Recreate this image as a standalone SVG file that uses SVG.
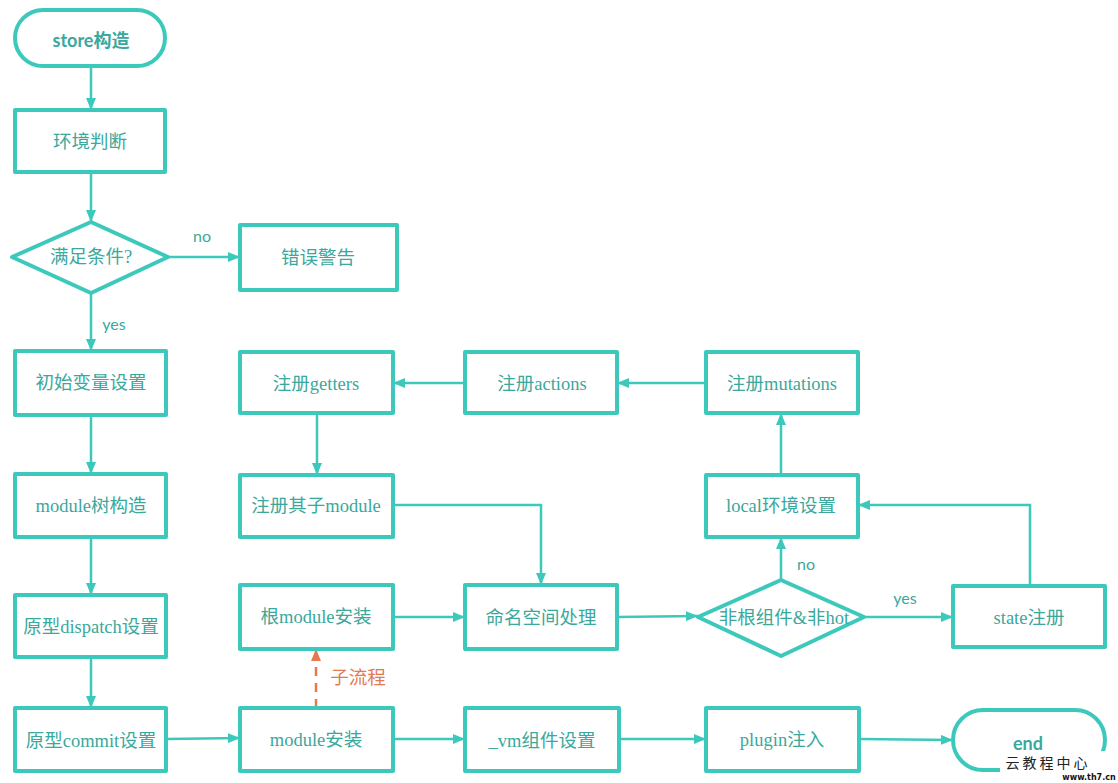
<svg xmlns="http://www.w3.org/2000/svg" width="1118" height="783" viewBox="0 0 1118 783">
<defs>
<marker id="ah" viewBox="0 0 12 10" refX="12" refY="5" markerWidth="12" markerHeight="10" markerUnits="userSpaceOnUse" orient="auto">
<path d="M0,0 L12,5 L0,10 Z" fill="#3cc9bb"/>
</marker>
<marker id="ahO" viewBox="0 0 12 10" refX="12" refY="5" markerWidth="12" markerHeight="10" markerUnits="userSpaceOnUse" orient="auto">
<path d="M0,0 L12,5 L0,10 Z" fill="#e8794f"/>
</marker>
<style>
.box{fill:#fff;stroke:#3cc9bb;stroke-width:4;stroke-linejoin:round}
.t{font-family:"Liberation Serif","Noto Sans CJK SC",serif;font-size:18.5px;fill:#3aa89c;text-anchor:middle;dominant-baseline:central}
.h{font-family:"Lato","Noto Sans CJK SC",sans-serif;font-size:18px;font-weight:bold;fill:#3aa89c;text-anchor:middle;dominant-baseline:central}
.lbl{font-family:"Lato",sans-serif;font-size:16px;fill:#3aa89c;text-anchor:middle;dominant-baseline:central}
.c{fill:none;stroke:#3cc9bb;stroke-width:2.5;marker-end:url(#ah)}
</style>
</defs>
<rect width="1118" height="783" fill="#fff"/>
<g id="connectors">
<path class="c" d="M91,65 V110"/>
<path class="c" d="M91,172 V222"/>
<path class="c" d="M168,257 H240"/>
<path class="c" d="M91,293 V351"/>
<path class="c" d="M91,415 V474"/>
<path class="c" d="M91,537 V595"/>
<path class="c" d="M91,657 V708"/>
<path class="c" d="M166,739 L240,738"/>
<path d="M316,708 V649" fill="none" stroke="#e8794f" stroke-width="2.5" stroke-dasharray="9,7" marker-end="url(#ahO)"/>
<path class="c" d="M393,617 H465"/>
<path class="c" d="M393,505 H541 V585"/>
<path class="c" d="M617,617 L698,616"/>
<path class="c" d="M781,580 V537"/>
<path class="c" d="M864,617 H953"/>
<path class="c" d="M1030,586 V505 H858"/>
<path class="c" d="M781,475 V413"/>
<path class="c" d="M706,383 H617"/>
<path class="c" d="M465,383 H393"/>
<path class="c" d="M317,413 V475"/>
<path class="c" d="M393,739 H465"/>
<path class="c" d="M619,739 H706"/>
<path class="c" d="M859,739 L953,740"/>
<text class="lbl" x="202" y="235">no</text>
<text class="lbl" x="114" y="323">yes</text>
<text class="lbl" x="806" y="563">no</text>
<text class="lbl" x="905" y="597">yes</text>
<text class="t" x="358" y="678" style="fill:#e07a52">子流程</text>
</g>
<g id="n-store"><rect class="box" x="15" y="10" width="150" height="56" rx="28"/><text class="h" x="91" y="40">store构造</text></g>
<g id="n-env"><rect class="box" x="15" y="110" width="150" height="62"/><text class="t" x="90" y="142">环境判断</text></g>
<g id="n-cond"><path class="box" d="M12,257 L91,222 L168,257 L91,293 Z"/><text class="t" x="91" y="257">满足条件?</text></g>
<g id="n-err"><rect class="box" x="240" y="225" width="157" height="65"/><text class="t" x="318" y="258">错误警告</text></g>
<g id="n-init"><rect class="box" x="15" y="351" width="151" height="64"/><text class="t" x="91" y="383">初始变量设置</text></g>
<g id="n-tree"><rect class="box" x="15" y="474" width="151" height="63"/><text class="t" x="91" y="506">module树构造</text></g>
<g id="n-dispatch"><rect class="box" x="15" y="595" width="151" height="62"/><text class="t" x="91" y="627">原型dispatch设置</text></g>
<g id="n-commit"><rect class="box" x="15" y="708" width="151" height="63"/><text class="t" x="91" y="741">原型commit设置</text></g>
<g id="n-modinst"><rect class="box" x="240" y="708" width="153" height="63"/><text class="t" x="316" y="740">module安装</text></g>
<g id="n-vm"><rect class="box" x="465" y="708" width="154" height="63"/><text class="t" x="542" y="741">_vm组件设置</text></g>
<g id="n-plugin"><rect class="box" x="706" y="708" width="153" height="63"/><text class="t" x="782" y="740">plugin注入</text></g>
<g id="n-end"><rect class="box" x="953" y="710" width="152" height="60" rx="30"/><text class="h" x="1028" y="743">end</text></g>
<g id="n-root"><rect class="box" x="240" y="585" width="153" height="64"/><text class="t" x="316" y="617">根module安装</text></g>
<g id="n-ns"><rect class="box" x="465" y="585" width="152" height="64"/><text class="t" x="541" y="618">命名空间处理</text></g>
<g id="n-hot"><path class="box" d="M698,617 L781,580 L864,617 L781,656 Z"/><text class="t" x="784" y="618">非根组件&amp;非hot</text></g>
<g id="n-state"><rect class="box" x="953" y="586" width="152" height="61"/><text class="t" x="1029" y="618">state注册</text></g>
<g id="n-local"><rect class="box" x="706" y="475" width="152" height="62"/><text class="t" x="781" y="506">local环境设置</text></g>
<g id="n-mut"><rect class="box" x="706" y="352" width="152" height="61"/><text class="t" x="782" y="384">注册mutations</text></g>
<g id="n-act"><rect class="box" x="465" y="352" width="152" height="61"/><text class="t" x="542" y="384">注册actions</text></g>
<g id="n-get"><rect class="box" x="240" y="352" width="153" height="61"/><text class="t" x="316" y="384">注册getters</text></g>
<g id="n-sub"><rect class="box" x="240" y="475" width="153" height="62"/><text class="t" x="316" y="506">注册其子module</text></g>
<g id="watermark">
<rect x="1000" y="751" width="118" height="32" fill="#fff"/>
<text x="1048" y="762" font-family="'Noto Sans CJK SC',sans-serif" font-size="14" letter-spacing="3" text-anchor="middle" dominant-baseline="central" fill="#222">云教程中心</text>
<text x="1089" y="777" font-family="'DejaVu Sans',sans-serif" font-size="8" font-weight="bold" text-anchor="middle" dominant-baseline="central" fill="#111">www.th7.cn</text>
</g>
</svg>
